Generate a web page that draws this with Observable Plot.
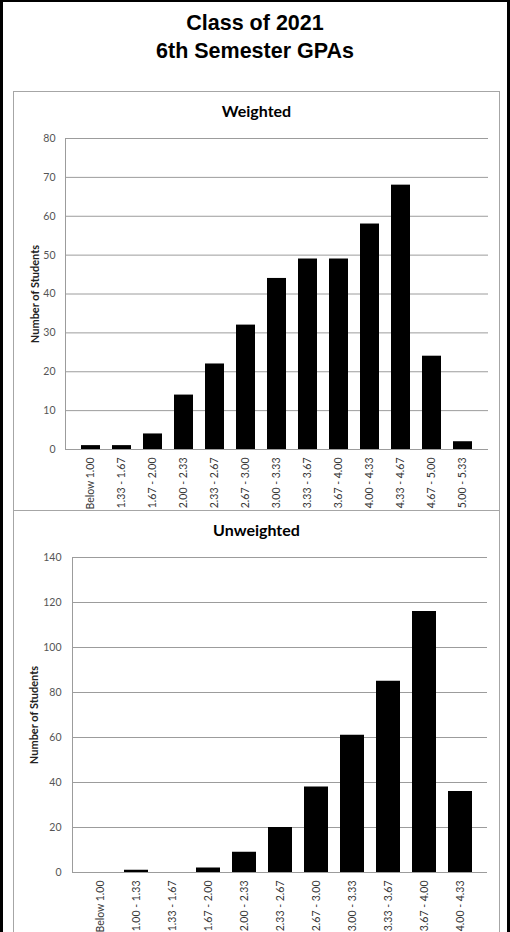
<!DOCTYPE html>
<html>
<head>
<meta charset="utf-8">
<script src="https://cdn.jsdelivr.net/npm/d3@7"></script>
<script src="https://cdn.jsdelivr.net/npm/@observablehq/plot@0.6"></script>
<style>
  html, body { margin: 0; padding: 0; background: #fff; }
  #page { position: relative; width: 510px; height: 932px; overflow: hidden; background: #fff; }
  #frame { position: absolute; left: 0; top: 0; width: 510px; height: 940px; box-sizing: border-box;
           border-top: 2px solid #000; border-left: 3px solid #000; border-right: 3px solid #000; }
  #title { position: absolute; left: 0; top: 9px; width: 510px; text-align: center;
           font-family: "Liberation Sans", Arial, sans-serif; font-weight: bold; font-size: 21.5px; line-height: 28px; color: #000; }
  .panel { position: absolute; left: 13px; width: 487px; box-sizing: border-box; border: 1.5px solid #a6a6a6; }
  .ptitle { position: absolute; left: 13px; width: 487px; text-align: center; font-family: Lato, sans-serif;
            font-weight: bold; font-size: 16px; line-height: 20px; color: #000; }
  .chart { position: absolute; left: 13px; }
</style>
</head>
<body>
<div id="page">
  <div id="frame"></div>
  <div id="title">Class of 2021<br>6th Semester GPAs</div>
  <div class="panel" style="top:91px;height:420px;"></div>
  <div class="panel" style="top:510px;height:430px;"></div>
  <div class="ptitle" style="top:101px;">Weighted</div>
  <div class="ptitle" style="top:520px;">Unweighted</div>
  <div class="chart" id="w" style="top:120px;"></div>
  <div class="chart" id="u" style="top:540px;"></div>
</div>
<script>
const weightedCategories = ["Below 1.00", "1.33 - 1.67", "1.67 - 2.00", "2.00 - 2.33", "2.33 - 2.67", "2.67 - 3.00", "3.00 - 3.33", "3.33 - 3.67", "3.67 - 4.00", "4.00 - 4.33", "4.33 - 4.67", "4.67 - 5.00", "5.00 - 5.33"];
const weightedCounts = [1, 1, 4, 14, 22, 32, 44, 49, 49, 58, 68, 24, 2];
const weightedTicks = [0, 10, 20, 30, 40, 50, 60, 70, 80];

const unweightedCategories = ["Below 1.00", "1.00 - 1.33", "1.33 - 1.67", "1.67 - 2.00", "2.00 - 2.33", "2.33 - 2.67", "2.67 - 3.00", "3.00 - 3.33", "3.33 - 3.67", "3.67 - 4.00", "4.00 - 4.33"];
const unweightedCounts = [0, 1, 0, 2, 9, 20, 38, 61, 85, 116, 36];
const unweightedTicks = [0, 20, 40, 60, 80, 100, 120, 140];

const yLabel = "Number of Students";

function makeChart(cats, counts, ticks, opts) {
  const data = cats.map((c, i) => ({cat: c, n: counts[i]}));
  return Plot.plot({
    width: 487,
    height: opts.height,
    marginLeft: opts.ml,
    marginRight: opts.mr,
    marginTop: opts.mt,
    marginBottom: opts.mb,
    style: {fontFamily: "Lato, sans-serif", background: "transparent", overflow: "visible"},
    x: {domain: cats, padding: opts.padding, align: 0.5},
    y: {domain: [ticks[0], ticks[ticks.length - 1]]},
    marks: [
      Plot.gridY(ticks, {stroke: "#9c9c9c", strokeOpacity: 1, strokeWidth: 1}),
      Plot.frame({anchor: "left", stroke: "#9c9c9c", strokeWidth: 1}),
      Plot.barY(data, {x: "cat", y: "n", fill: "#000"}),
      Plot.ruleY([0], {stroke: "#9c9c9c", strokeWidth: 1}),
      Plot.axisY(ticks, {tickSize: 0, tickPadding: opts.tp, fontSize: 10.5, fill: "#555", label: null}),
      Plot.axisX({tickRotate: -90, tickSize: 0, tickPadding: 8, fontSize: 10.5, fill: "#333", label: null}),
      Plot.text([yLabel], {frameAnchor: "left", textAnchor: "middle", rotate: -90, dx: -opts.labelDx, fontSize: 11, fontWeight: "bold", fill: "#222"})
    ]
  });
}

document.getElementById("w").appendChild(makeChart(weightedCategories, weightedCounts, weightedTicks,
  {height: 384, ml: 52, mr: 12, mt: 18, mb: 55, padding: 0.385, tp: 10, labelDx: 30}));
document.getElementById("u").appendChild(makeChart(unweightedCategories, unweightedCounts, unweightedTicks,
  {height: 392, ml: 59, mr: 13, mt: 17, mb: 60, padding: 0.34, tp: 11, labelDx: 38}));
</script>
</body>
</html>
